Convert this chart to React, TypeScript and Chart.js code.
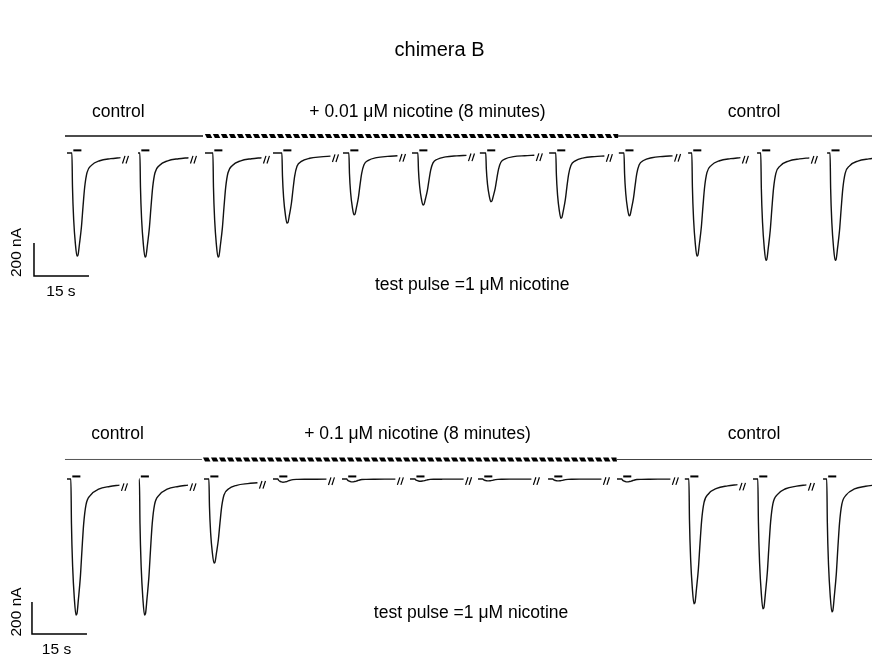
import React, { useEffect, useRef } from "react";
import { Chart, registerables } from "chart.js";
Chart.register(...registerables);

// ---------- data (time in s, current in nA; 0 nA = holding level of each sweep) ----------
const titleText = "chimera B";
const topDrugLabel = "+ 0.01 \u03BCM nicotine (8 minutes)";
const botDrugLabel = "+ 0.1 \u03BCM nicotine (8 minutes)";
const controlLabel = "control";
const pulseLabel = "test pulse =1 \u03BCM nicotine";
const scaleYLabel = "200 nA";
const scaleXLabel = "15 s";

// sweep start and peak times (s)
const topStarts = [0, 19.36, 37.64, 56.18, 75.27, 94.09, 112.6, 131.5, 150.5, 169.4, 188.2, 207.3];
const topPeakT = [2.73, 21.27, 41.18, 60.0, 78.27, 97.09, 115.6, 134.7, 153.3, 171.8, 190.6, 209.5];
const topAmps = [625, 630, 630, 425, 375, 315, 295, 395, 380, 625, 650, 650];

const botStarts = [0, 19.64, 37.36, 56.18, 75.0, 93.55, 112.1, 131.2, 150.0, 168.5, 187.1, 206.2];
const botPeakT = [2.45, 21.14, 40.09, 58.9, 77.7, 96.3, 114.8, 133.9, 152.7, 171.0, 189.8, 208.6];
const botAmps = [850, 850, 525, 20, 18, 14, 12, 12, 18, 780, 812, 830];

// normalised response shape read from the first control sweep (time relative to peak)
const shapeDt = [-1.39, -1.23, -0.9, -0.44, 0, 0.27, 0.68, 1.2, 1.64, 2.1, 2.73, 3.93, 6.19, 9.19, 11.86];
const shapeF = [0, 0.33, 0.65, 0.88, 1.0, 0.99, 0.88, 0.72, 0.52, 0.33, 0.19, 0.12, 0.075, 0.055, 0.045];

// test pulse bars relative to peak (s) and drug application segments (s)
const pulseOn = -1.0;
const pulseOff = 1.2;
const topControl1 = [-0.55, 37.1];
const topDrug = [37.6, 150.3];
const topControl2 = [150.3, 222];
const botControl1 = [-0.55, 36.8];
const botDrug = [37.1, 150.0];
const botControl2 = [150.0, 222];

// label anchors (s, nA)
const topLabelLevel = 248;
const botLabelLevel = 281;
const topBarLevel = 103;
const botBarLevel = 122;
const pulseLevel = 16;
const labelX = [14.0, 98.3, 187.4];
const botLabelX = [13.8, 95.6, 187.4];
const titlePos = [101.6, 624];
const topPulseLabelPos = [110.5, -800];
const botPulseLabelPos = [110.2, -837];
// scale bars: corner (s, nA), 15 s and 200 nA
const scaleBarT = 15;
const scaleBarI = 200;
const topScaleCorner = [-9.0, -745];
const botScaleCorner = [-9.55, -969];
const topScaleYLabelPos = [-13.6, -603];
const topScaleXLabelPos = [-1.64, -842];
const botScaleYLabelPos = [-13.6, -831];
const botScaleXLabelPos = [-2.86, -1069];

// ---------- layout ----------
const W = 872;
const H = 658;
const X_MIN = -18.27;
const X_MAX = 219.55;
const TOP_MIN = -3060.6;
const TOP_MAX = 927.3;
const BOT_MIN = -1118.75;
const BOT_MAX = 2993.75;
const FONT = "'Liberation Sans', Arial, Helvetica, sans-serif";

function buildTrace(start: number, peakT: number, amp: number) {
  const pts: { x: number; y: number }[] = [{ x: start, y: 0 }];
  for (let i = 0; i < shapeDt.length; i++) {
    const x = peakT + shapeDt[i];
    if (x > start + 0.01) pts.push({ x, y: -amp * shapeF[i] });
  }
  return pts;
}

function traceEnd(peakT: number) {
  return peakT + shapeDt[shapeDt.length - 1];
}

const overlay = {
  id: "overlay",
  afterDatasetsDraw(chart: any) {
    const ctx: CanvasRenderingContext2D = chart.ctx;
    const xs = chart.scales.x;
    const panels = [
      {
        y: chart.scales.yTop,
        starts: topStarts, peaks: topPeakT, amps: topAmps,
        c1: topControl1, d: topDrug, c2: topControl2,
        bar: topBarLevel, lab: topLabelLevel, labX: labelX, drug: topDrugLabel,
        pl: topPulseLabelPos, corner: topScaleCorner, syl: topScaleYLabelPos, sxl: topScaleXLabelPos,
        c1w: 1.5, c1c: "#111", c2w: 1.6, c2c: "#333",
      },
      {
        y: chart.scales.yBot,
        starts: botStarts, peaks: botPeakT, amps: botAmps,
        c1: botControl1, d: botDrug, c2: botControl2,
        bar: botBarLevel, lab: botLabelLevel, labX: botLabelX, drug: botDrugLabel,
        pl: botPulseLabelPos, corner: botScaleCorner, syl: botScaleYLabelPos, sxl: botScaleXLabelPos,
        c1w: 1, c1c: "#555", c2w: 1.1, c2c: "#444",
      },
    ];
    const X = (v: number) => xs.getPixelForValue(v);
    ctx.save();
    ctx.fillStyle = "#000";
    ctx.strokeStyle = "#000";
    ctx.textAlign = "center";
    ctx.textBaseline = "middle";

    // title
    ctx.font = `20px ${FONT}`;
    ctx.fillText(titleText, X(titlePos[0]), chart.scales.yTop.getPixelForValue(titlePos[1]));

    for (const p of panels) {
      const Y = (v: number) => p.y.getPixelForValue(v);
      // labels
      ctx.font = `17.5px ${FONT}`;
      ctx.fillText(controlLabel, X(p.labX[0]), Y(p.lab));
      ctx.fillText(p.drug, X(p.labX[1]), Y(p.lab));
      ctx.fillText(controlLabel, X(p.labX[2]), Y(p.lab));
      ctx.fillText(pulseLabel, X(p.pl[0]), Y(p.pl[1]));

      // application bars
      const by = Y(p.bar);
      ctx.lineWidth = p.c1w;
      ctx.strokeStyle = p.c1c;
      ctx.beginPath();
      ctx.moveTo(X(p.c1[0]), by);
      ctx.lineTo(X(p.c1[1]), by);
      ctx.stroke();
      ctx.lineWidth = p.c2w;
      ctx.strokeStyle = p.c2c;
      ctx.beginPath();
      ctx.moveTo(X(p.c2[0]), by);
      ctx.lineTo(X(p.c2[1]), by);
      ctx.stroke();
      const h0 = X(p.d[0]);
      const h1 = X(p.d[1]);
      ctx.fillStyle = "#000";
      for (let x = h0; x < h1 - 3; x += 8) {
        ctx.beginPath();
        ctx.moveTo(x, by - 2.1);
        ctx.lineTo(x + 5.4, by - 2.1);
        ctx.lineTo(Math.min(x + 7.4, h1), by + 2.1);
        ctx.lineTo(x + 2, by + 2.1);
        ctx.closePath();
        ctx.fill();
      }

      // test pulse bars and breaks
      for (let i = 0; i < p.starts.length; i++) {
        ctx.fillStyle = "#000";
        const px0 = X(p.peaks[i] + pulseOn);
        const px1 = X(p.peaks[i] + pulseOff);
        const py = Y(pulseLevel);
        ctx.fillRect(px0, py - 1, px1 - px0, 2);
        if (i < p.starts.length - 1) {
          const e = traceEnd(p.peaks[i]);
          const ey = Y(-p.amps[i] * shapeF[shapeF.length - 1]) + 2;
          const bx = X(e) + 2;
          ctx.strokeStyle = "#000";
          ctx.lineWidth = 1.2;
          for (const off of [0, 3.5]) {
            ctx.beginPath();
            ctx.moveTo(bx + off, ey + 3.8);
            ctx.lineTo(bx + off + 2.5, ey - 3.8);
            ctx.stroke();
          }
        }
      }

      // scale bars
      const cx = X(p.corner[0]);
      const cy = Y(p.corner[1]);
      ctx.strokeStyle = "#000";
      ctx.lineWidth = 1.5;
      ctx.beginPath();
      ctx.moveTo(cx, Y(p.corner[1] + scaleBarI));
      ctx.lineTo(cx, cy);
      ctx.lineTo(X(p.corner[0] + scaleBarT), cy);
      ctx.stroke();
      ctx.font = `15.5px ${FONT}`;
      ctx.fillText(scaleXLabel, X(p.sxl[0]), Y(p.sxl[1]));
      ctx.save();
      ctx.translate(X(p.syl[0]), Y(p.syl[1]));
      ctx.rotate(-Math.PI / 2);
      ctx.fillText(scaleYLabel, 0, 0);
      ctx.restore();
    }
    ctx.restore();
  },
};

export default function App() {
  const ref = useRef<HTMLCanvasElement | null>(null);
  useEffect(() => {
    if (!ref.current) return;
    const datasets: any[] = [];
    const add = (starts: number[], peaks: number[], amps: number[], axis: string) => {
      for (let i = 0; i < starts.length; i++) {
        datasets.push({
          data: buildTrace(starts[i], peaks[i], amps[i]),
          yAxisID: axis,
          borderColor: "#111",
          borderWidth: 1.4,
          pointRadius: 0,
          fill: false,
          cubicInterpolationMode: "monotone",
        });
      }
    };
    add(topStarts, topPeakT, topAmps, "yTop");
    add(botStarts, botPeakT, botAmps, "yBot");
    const chart = new Chart(ref.current, {
      type: "line",
      data: { datasets },
      options: {
        animation: false,
        responsive: false,
        events: [],
        layout: { padding: 0 },
        plugins: { legend: { display: false }, tooltip: { enabled: false }, title: { display: false } },
        scales: {
          x: { type: "linear", min: X_MIN, max: X_MAX, display: false },
          yTop: { type: "linear", min: TOP_MIN, max: TOP_MAX, display: false },
          yBot: { type: "linear", min: BOT_MIN, max: BOT_MAX, display: false },
        },
      },
      plugins: [overlay],
    });
    return () => chart.destroy();
  }, []);
  return (
    <div style={{ position: "fixed", left: 0, top: 0, width: W, height: H, background: "#fff" }}>
      <canvas ref={ref} width={W} height={H} style={{ display: "block" }} />
    </div>
  );
}
